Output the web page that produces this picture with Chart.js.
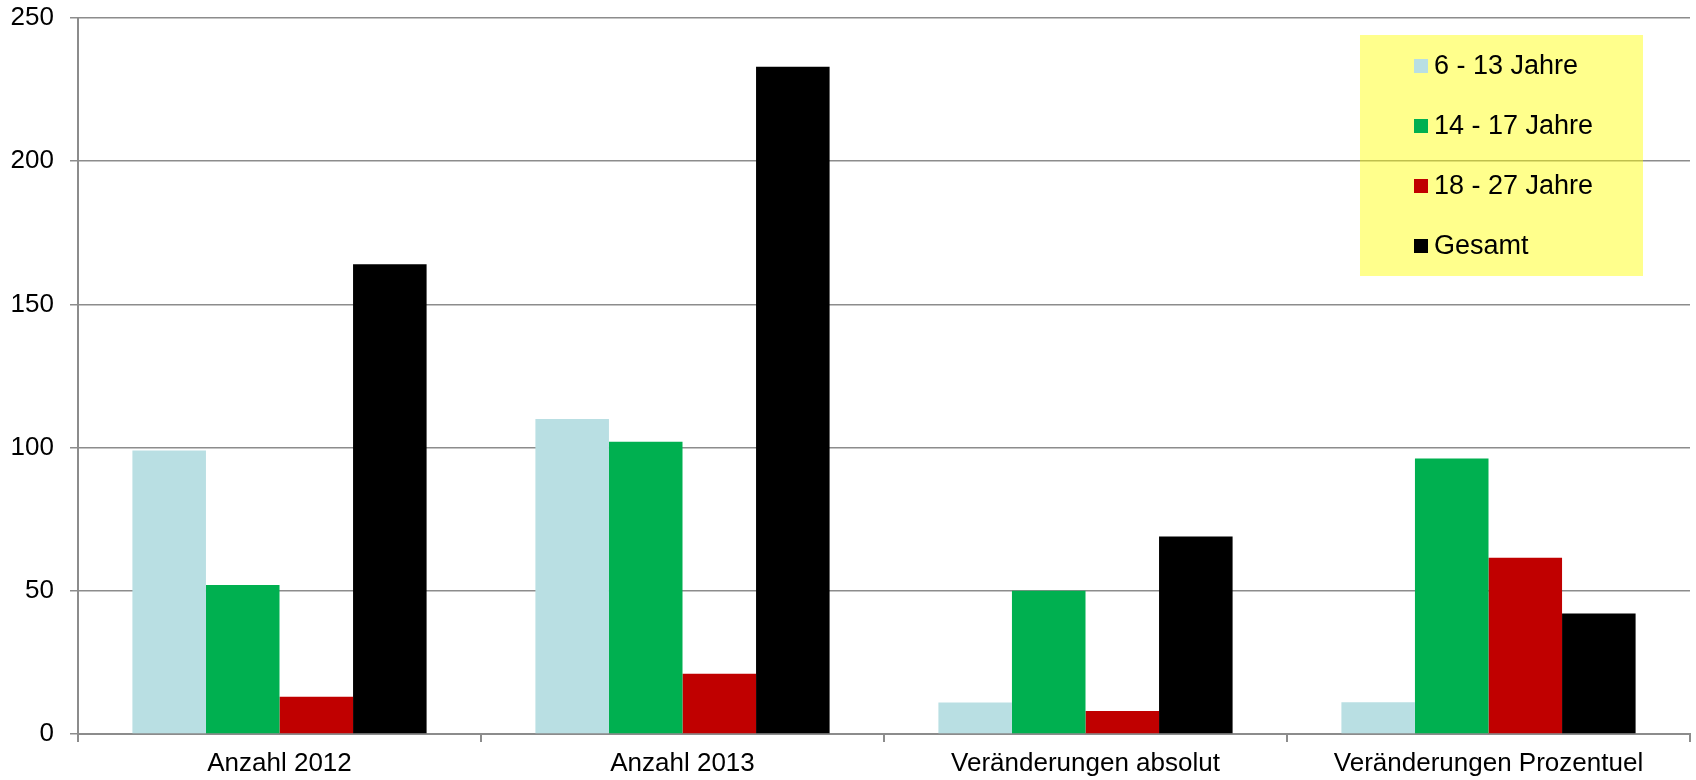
<!DOCTYPE html>
<html>
<head>
<meta charset="utf-8">
<script src="https://cdn.jsdelivr.net/npm/chart.js@4.4.1/dist/chart.umd.min.js"></script>
<style>
    body { margin: 0; background: #ffffff; }
    #wrap { position: relative; width: 1696px; height: 780px; }
    #legend {
        position: absolute;
        left: 1360px;
        top: 35px;
        width: 283px;
        height: 241px;
        background: rgba(255, 255, 0, 0.45);
        font-family: 'Liberation Sans', Arial, sans-serif;
        font-size: 27px;
        color: #000;
    }
    .legend-row {
        position: absolute;
        left: 54px;
        height: 30px;
        line-height: 30px;
        white-space: nowrap;
    }
    .legend-box {
        display: inline-block;
        width: 14px;
        height: 14px;
        margin-right: 6px;
        vertical-align: 1px;
    }
</style>
</head>
<body>
<div id="wrap">
    <canvas id="chart"></canvas>
    <div id="legend"></div>
</div>
<script>
// Chart data
const categories = ['Anzahl 2012', 'Anzahl 2013', 'Veränderungen absolut', 'Veränderungen Prozentuel'];
const seriesNames = ['6 - 13 Jahre', '14 - 17 Jahre', '18 - 27 Jahre', 'Gesamt'];
const age6to13 = [99, 110, 11, 11.1];
const age14to17 = [52, 102, 50, 96.2];
const age18to27 = [13, 21, 8, 61.5];
const total = [164, 233, 69, 42.1];
const yTicks = [0, 50, 100, 150, 200, 250];

const seriesColors = ['#B9DFE3', '#00B050', '#C00000', '#000000'];
const seriesValues = [age6to13, age14to17, age18to27, total];

const font = { family: "'Liberation Sans', Arial, sans-serif", size: 26 };
const axisGray = '#8c8c8c';

const datasets = seriesNames.map(function(name, i) {
    return {
        label: name,
        data: seriesValues[i],
        backgroundColor: seriesColors[i],
        borderWidth: 0,
        barPercentage: 1,
        categoryPercentage: 0.73
    };
});

new Chart(document.getElementById('chart'), {
    type: 'bar',
    data: { labels: categories, datasets: datasets },
    options: {
        responsive: true,
        maintainAspectRatio: false,
        animation: false,
        layout: { padding: { top: 18, right: 6, bottom: 1, left: 0 } },
        plugins: {
            legend: { display: false },
            tooltip: { enabled: false }
        },
        scales: {
            x: {
                afterFit: function(scale) {
                    scale.height = 45;
                    scale.paddingLeft = 0;
                    scale.paddingRight = 0;
                },
                grid: {
                    offset: true,
                    drawOnChartArea: false,
                    drawTicks: true,
                    tickLength: 8,
                    color: axisGray,
                    lineWidth: 2
                },
                border: { color: axisGray, width: 2 },
                ticks: { color: '#000', font: font, padding: 6, maxRotation: 0 }
            },
            y: {
                min: 0,
                max: 250,
                afterFit: function(scale) {
                    scale.width = 78;
                    scale.paddingTop = 0;
                    scale.paddingBottom = 0;
                },
                afterBuildTicks: function(scale) {
                    scale.ticks = yTicks.map(function(v) { return { value: v }; });
                },
                grid: {
                    color: axisGray,
                    lineWidth: 1.5,
                    tickLength: 8
                },
                border: { color: axisGray, width: 2 },
                ticks: { color: '#000', font: font, padding: 16 }
            }
        }
    }
});

// Legend box drawn in HTML over the plot
const legend = document.getElementById('legend');
seriesNames.forEach(function(name, i) {
    const row = document.createElement('div');
    row.className = 'legend-row';
    row.style.top = (15 + i * 60) + 'px';
    const box = document.createElement('span');
    box.className = 'legend-box';
    box.style.background = seriesColors[i];
    row.appendChild(box);
    row.appendChild(document.createTextNode(name));
    legend.appendChild(row);
});
</script>
</body>
</html>
